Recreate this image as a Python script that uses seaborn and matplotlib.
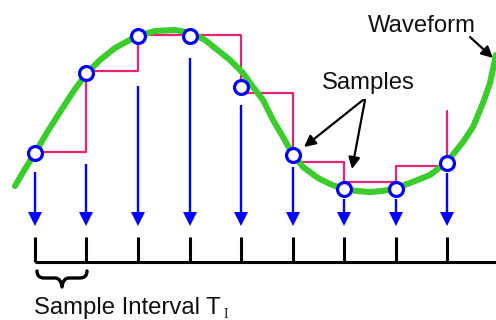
import matplotlib
matplotlib.use("Agg")
import matplotlib.pyplot as plt
import seaborn as sns
import pandas as pd
from matplotlib.path import Path
from matplotlib.patches import PathPatch

# ---- data (pixel-space diagram coordinates, y grows downward) ----
wave_x = [15, 25, 35, 48, 60, 73, 86, 100, 115, 137, 155, 175, 191, 205, 220, 230,
          243, 253, 263, 273, 283, 292, 303, 318, 330, 343, 357, 370, 383, 396, 410,
          430, 447, 463, 473, 483, 490, 496]
wave_y = [186, 169, 153, 131, 112, 92, 74, 60, 48, 36, 31, 30, 33, 40, 52, 60,
          73, 87, 100, 120, 137, 153, 167, 178, 184, 189, 191, 192, 191, 188, 183,
          175, 162, 142, 127, 103, 83, 55]

sample_x = [35, 86, 138, 190, 241, 293, 344, 396, 447]
sample_y = [153, 73, 36, 36, 87, 155, 189, 189, 163]
hold_y = [152, 71, 35, 35, 93, 162, 182, 166, 111]
arrow_top = [172, 164, 86, 58, 105, 167, 199, 199, 173]

labels = ["Waveform", "Samples", "Sample Interval T", "I"]

sns.set_theme(style="white")
plt.rcParams['font.family'] = ['Liberation Sans', 'DejaVu Sans']

fig = plt.figure(figsize=(4.96, 3.2), dpi=100)
ax = fig.add_axes([0, 0, 1, 1])

GREEN = '#3ccc2e'
PINK = '#e5256f'
BLUE = '#0000ff'

# sample-and-hold staircase
ax.plot(sample_x, hold_y, drawstyle='steps-post', color=PINK, lw=1.6, zorder=2)

# waveform
wave = pd.DataFrame({'x': wave_x, 'y': wave_y})
sns.lineplot(data=wave, x='x', y='y', sort=False, estimator=None, ax=ax,
             color=GREEN, lw=4.4, solid_capstyle='round', zorder=3)

# blue sampling arrows
ax.vlines(sample_x, arrow_top, [214] * len(sample_x), color=BLUE, lw=1.7, zorder=2)
ax.plot(sample_x, [218.5] * len(sample_x), linestyle='none', marker='v',
        markersize=9.6, color=BLUE, markeredgewidth=0, zorder=2)

# sample circles
samples = pd.DataFrame({'x': sample_x, 'y': sample_y})
sns.scatterplot(data=samples, x='x', y='y', ax=ax, s=100, facecolor='white',
                edgecolor=BLUE, linewidth=2.3, zorder=5)

ax.set_xlim(0, 496)
ax.set_ylim(320, 0)
ax.axis('off')

# time axis with ticks
ax.hlines(262, sample_x[0], 496, color='black', lw=2.2, zorder=2)
ax.vlines(sample_x, 237, 262, color='black', lw=2.2, zorder=2)

# brace under first interval
verts = [(37, 271), (37, 278), (44, 278), (55, 278), (61, 278), (62, 287),
         (63, 278), (69, 278), (80, 278), (87, 278), (87, 271)]
codes = [Path.MOVETO, Path.CURVE3, Path.CURVE3, Path.LINETO, Path.CURVE3, Path.CURVE3,
         Path.CURVE3, Path.CURVE3, Path.LINETO, Path.CURVE3, Path.CURVE3]
ax.add_patch(PathPatch(Path(verts, codes), fill=False, lw=2.4, edgecolor='black',
                       capstyle='round', joinstyle='round'))

# texts
FS = 17.2
ax.text(368, 32, labels[0], fontsize=FS, color='#111111', va='baseline', ha='left')
ax.text(322, 89, labels[1], fontsize=FS, color='#111111', va='baseline', ha='left')
ax.text(34, 314, labels[2], fontsize=FS, color='#111111', va='baseline', ha='left')
ax.text(224, 317.5, labels[3], fontsize=10, color='#111111', va='baseline', ha='left',
        family=['Liberation Serif', 'DejaVu Serif'])

# annotation arrows
ap = dict(arrowstyle='-|>', color='black', lw=1.6, mutation_scale=17,
          shrinkA=0, shrinkB=0)
ax.annotate('', xy=(304, 147), xytext=(363, 100), arrowprops=ap)
ax.annotate('', xy=(352, 169), xytext=(365, 100), arrowprops=ap)
ax.annotate('', xy=(493, 58), xytext=(470, 37), arrowprops=ap)

fig.savefig('out.png', dpi=100, facecolor='white')
